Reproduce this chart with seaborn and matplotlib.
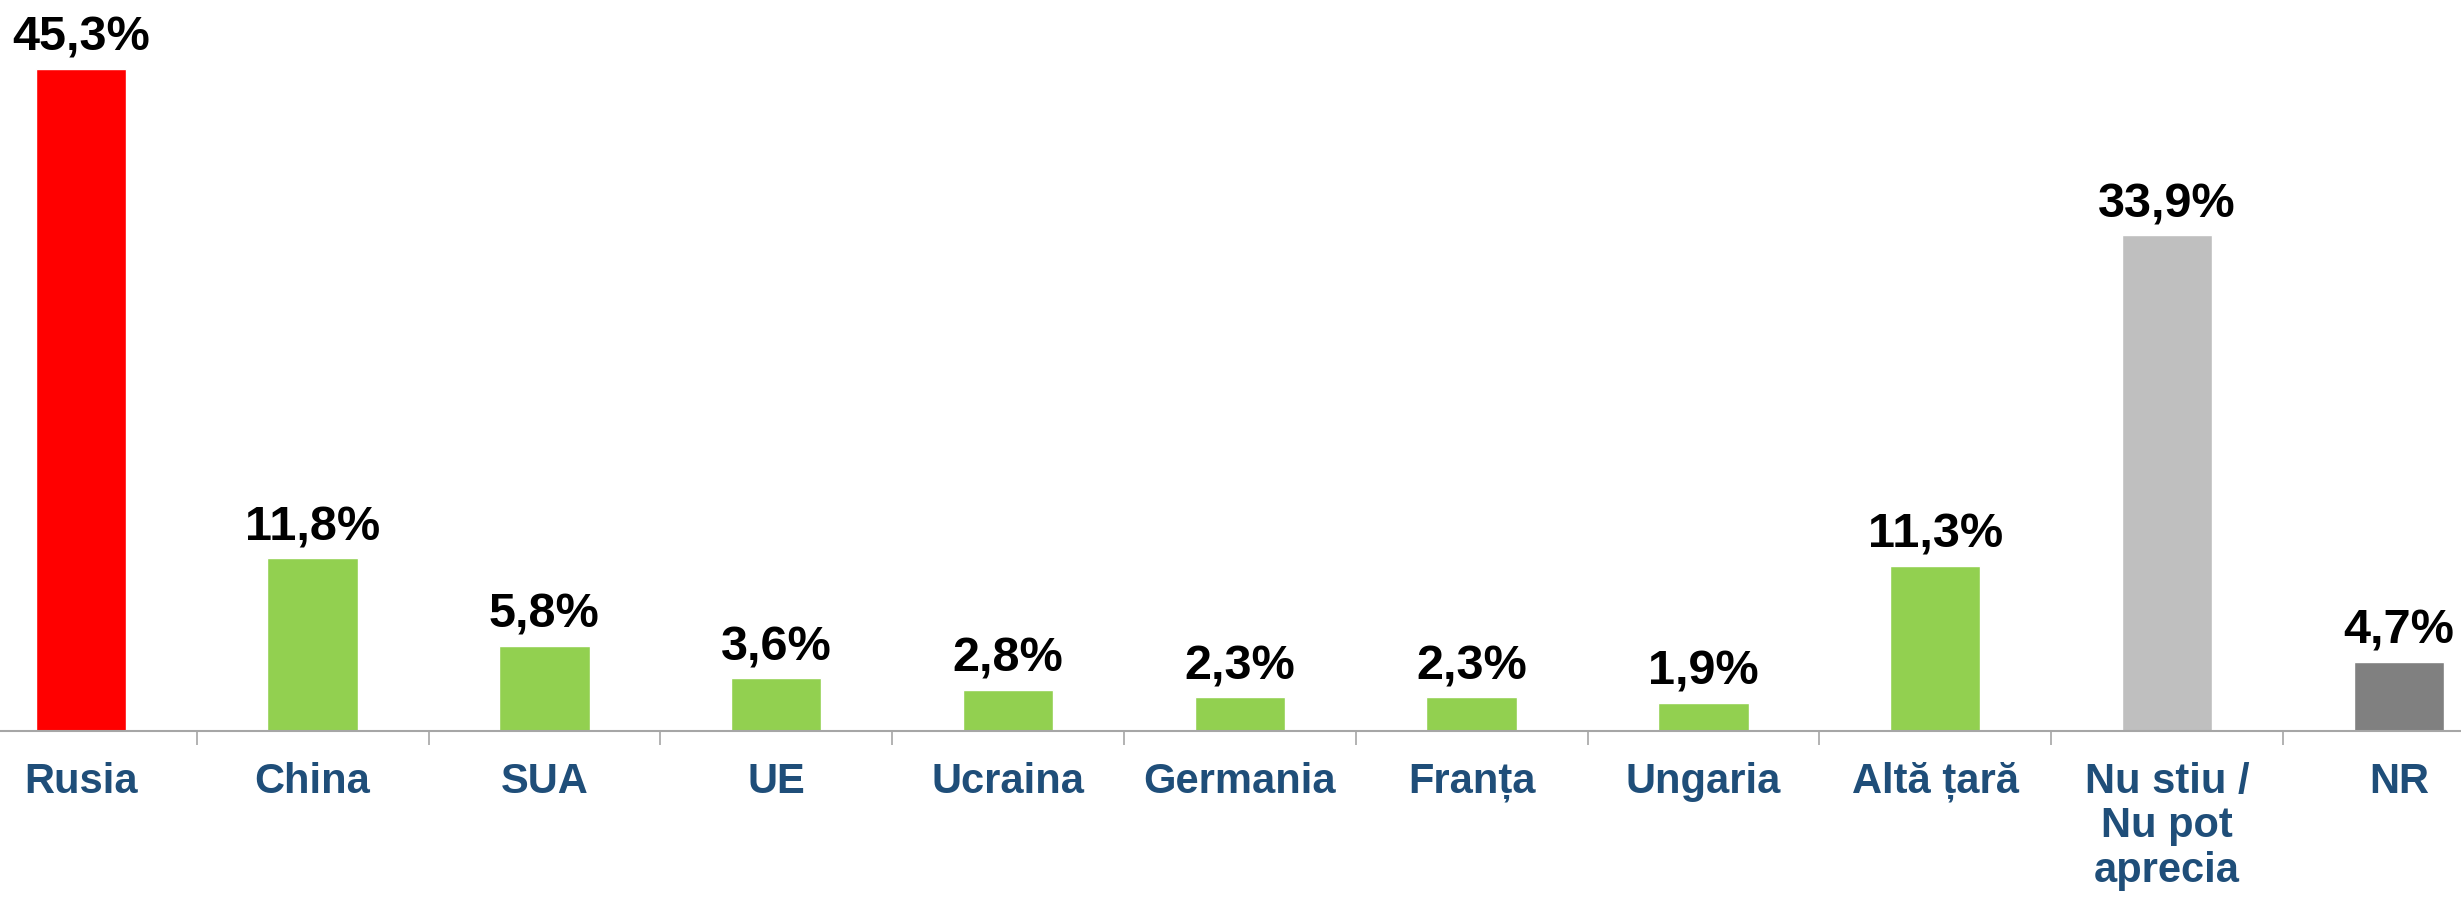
import matplotlib
matplotlib.use("Agg")
import matplotlib.pyplot as plt
import seaborn as sns
import pandas as pd

categories = ["Rusia", "China", "SUA", "UE", "Ucraina", "Germania", "Franța",
              "Ungaria", "Altă țară", "Nu stiu /\nNu pot\naprecia", "NR"]
values = [45.3, 11.8, 5.8, 3.6, 2.8, 2.3, 2.3, 1.9, 11.3, 33.9, 4.7]
colors = ["#FF0000"] + ["#92D050"] * 8 + ["#BFBFBF", "#808080"]

sns.set_style("white")
plt.rcParams["font.family"] = ["Liberation Sans", "DejaVu Sans"]

df = pd.DataFrame({"cat": categories, "val": values})

W, H = 2461, 902
fig = plt.figure(figsize=(W / 100, H / 100), dpi=100)
# plot area runs a little past both image edges, like the cropped original
step = 231.8
left_px = 80.8 - step / 2
axis_px = 731
ax = fig.add_axes([left_px / W, (H - axis_px) / H, 11 * step / W, axis_px / H])

sns.barplot(data=df, x="cat", y="val", hue="cat", palette=colors,
            legend=False, width=0.39, saturation=1, ax=ax)

ax.set_xlim(-0.5, len(categories) - 0.5)
ax.set_ylim(0, 50)

for cont in ax.containers:
    ax.bar_label(cont, labels=[f"{v:.1f}%".replace(".", ",") for v in cont.datavalues],
                 padding=6, fontsize=35, fontweight="bold", color="black")

ax.set_xlabel("")
ax.set_ylabel("")
ax.set_yticks([])
for s in ["top", "right", "left"]:
    ax.spines[s].set_visible(False)
ax.spines["bottom"].set_color("#A6A6A6")
ax.spines["bottom"].set_linewidth(1.5)

# category separators as ticks between bars (seaborn white style turns ticks off)
ax.set_xticks(range(len(categories)))
ax.set_xticks([i + 0.5 for i in range(len(categories) - 1)], minor=True)
ax.tick_params(axis="x", which="minor", bottom=True, length=10, width=1.2,
               color="#A6A6A6", direction="out")
ax.tick_params(axis="x", which="major", bottom=True, length=0, pad=22)
ax.set_xticklabels(categories, fontsize=30, fontweight="bold", color="#1F4E79",
                   va="top", linespacing=1.15)

fig.savefig("out.png", dpi=100)
